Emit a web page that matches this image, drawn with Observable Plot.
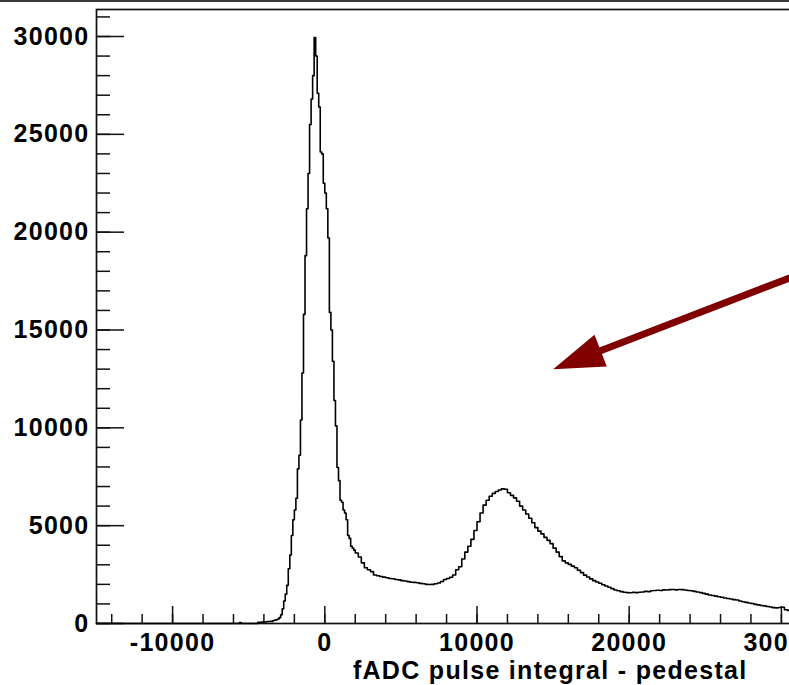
<!DOCTYPE html>
<html>
<head>
<meta charset="utf-8">
<script src="https://cdn.jsdelivr.net/npm/d3@7"></script>
<script src="https://cdn.jsdelivr.net/npm/@observablehq/plot@0.6"></script>
<style>
  html, body { margin: 0; padding: 0; background: #fff; overflow: hidden; }
  #wrap { position: relative; width: 789px; height: 685px; overflow: hidden; }
  #topline { position: absolute; left: 0; top: 0; width: 789px; height: 2px; background: #3a3a3a; }
</style>
</head>
<body>
<div id="wrap"><div id="topline"></div></div>
<script>
// ---- histogram data (bin left edges and counts) ----
const binLeft = [
  -15000, -5600, -5500, -4400, -4200, -4000, -3800, -3600, -3400, -3300, -3200,
  -3100, -3000, -2900, -2800, -2700, -2600, -2500, -2400, -2300, -2200, -2100,
  -2000, -1900, -1800, -1700, -1600, -1500, -1400, -1300, -1200, -1100,
  -1000, -900, -800, -700, -600, -500, -400, -300, -200, -100,
  0, 100, 200, 300, 400, 500, 600, 700, 800, 900,
  1000, 1100, 1200, 1300, 1400, 1500, 1600, 1700, 1800, 1900,
  2000, 2200, 2400, 2600, 2800, 3000, 3200, 3400, 3600, 3800,
  4000, 4200, 4400, 4600, 4800, 5000, 5200, 5400, 5600, 5800,
  6000, 6200, 6400, 6600, 6800, 7000, 7200, 7400, 7600, 7800,
  8000, 8200, 8400, 8600, 8800, 9000, 9200, 9400, 9600, 9800,
  10000, 10200, 10400, 10600, 10800, 11000, 11200, 11400, 11600, 11800,
  12000, 12200, 12400, 12600, 12800, 13000, 13200, 13400, 13600, 13800,
  14000, 14200, 14400, 14600, 14800, 15000, 15200, 15400, 15600, 15800,
  16000, 16200, 16400, 16600, 16800, 17000, 17200, 17400, 17600, 17800,
  18000, 18200, 18400, 18600, 18800, 19000, 19200, 19400, 19600, 19800,
  20000, 20200, 20400, 20600, 20800, 21000, 21200, 21400, 21600, 21800,
  22000, 22200, 22400, 22600, 22800, 23000, 23200, 23400, 23600, 23800,
  24000, 24200, 24400, 24600, 24800, 25000, 25200, 25400, 25600, 25800,
  26000, 26200, 26400, 26600, 26800, 27000, 27200, 27400, 27600, 27800,
  28000, 28200, 28400, 28600, 28800, 29000, 29200, 29400, 29600, 29800,
  30000, 30200, 30400, 30600, 30800
];
const binCount = [
  0, 50, 0, 60, 70, 80, 100, 110, 150, 170, 190,
  230, 300, 450, 750, 1150, 1500, 1950, 2800, 3500, 4500, 5300,
  5800, 6400, 7900, 8600, 10400, 12800, 15800, 18800, 21200, 23000,
  25500, 26800, 28000, 29950, 29000, 27100, 26400, 24100, 24000, 22500,
  22000, 21200, 19700, 15900, 15000, 13400, 11400, 10100, 7970, 7300,
  6300, 6200, 5800, 5650, 5300, 4500, 4350, 3950, 3850, 3750,
  3600, 3400, 3100, 2850, 2750, 2650, 2480, 2440, 2400, 2370,
  2340, 2300, 2290, 2250, 2230, 2190, 2170, 2140, 2110, 2100,
  2080, 2050, 2030, 2000, 1990, 2000, 2030, 2070, 2150, 2250,
  2300, 2360, 2480, 2750, 2900, 3300, 3650, 3950, 4300, 4750,
  5200, 5650, 6050, 6300, 6500, 6650, 6750, 6820, 6880, 6860,
  6680, 6550, 6420, 6250, 6000, 5800, 5600, 5380, 5150, 4900,
  4720, 4580, 4400, 4250, 4080, 3850, 3650, 3420, 3200, 3100,
  3020, 2930, 2850, 2720, 2600, 2470, 2380, 2280, 2190, 2120,
  2060, 1980, 1920, 1850, 1780, 1710, 1670, 1630, 1600, 1580,
  1570, 1590, 1580, 1600, 1610, 1640, 1630, 1670, 1690, 1700,
  1690, 1720, 1710, 1730, 1740, 1720, 1740, 1730, 1710, 1690,
  1670, 1640, 1610, 1580, 1540, 1500, 1460, 1430, 1400, 1370,
  1340, 1300, 1280, 1250, 1220, 1200, 1150, 1110, 1080, 1050,
  1020, 980, 950, 920, 900, 870, 840, 810, 800, 820,
  830, 700, 670, 650, 640
];
const histEnd = 31000;

// ---- axis ticks and labels ----
const yMajorTicks = [0, 5000, 10000, 15000, 20000, 25000, 30000];
const yMinorTicks = [0, 1000, 2000, 3000, 4000, 5000, 6000, 7000, 8000, 9000, 10000,
  11000, 12000, 13000, 14000, 15000, 16000, 17000, 18000, 19000, 20000,
  21000, 22000, 23000, 24000, 25000, 26000, 27000, 28000, 29000, 30000, 31000];
const xMajorTicks = [-10000, 0, 10000, 20000, 30000];
const xMinorTicks = [-14000, -12000, -10000, -8000, -6000, -4000, -2000, 0, 2000, 4000, 6000,
  8000, 10000, 12000, 14000, 16000, 18000, 20000, 22000, 24000, 26000, 28000, 30000, 32000, 34000];
const xTitle = "fADC pulse integral - pedestal";

// ---- annotation arrow (start -> tip, data coordinates) ----
const arrowX = [35000, 15000];
const arrowY = [19000, 13000];

const hist = binLeft.map((x, i) => ({x, y: binCount[i]}));
hist.push({x: histEnd, y: binCount[binCount.length - 1]});

const arrowHead = {
  draw(ctx) {
    ctx.moveTo(0, 0);
    ctx.lineTo(51, -17);
    ctx.lineTo(51, 17);
    ctx.closePath();
  }
};

const font = "'Liberation Sans', Arial, Helvetica, sans-serif";
const fmt = d => `${d}`;
const blank = () => "";

const chart = Plot.plot({
  width: 789,
  height: 685,
  marginLeft: 96,
  marginRight: -68,
  marginTop: 9,
  marginBottom: 62,
  x: {domain: [-15000, 35000], label: null},
  y: {domain: [0, 31380], label: null},
  style: {
    fontFamily: font,
    fontWeight: "bold",
    fontSize: "25px",
    letterSpacing: "1.3px",
    color: "#000",
    background: "#fff",
    overflow: "hidden"
  },
  marks: [
    Plot.frame({stroke: "#111", strokeWidth: 1.7}),
    Plot.axisY(yMinorTicks, {tickSize: -14, tickFormat: blank, strokeWidth: 1.5, stroke: "#111"}),
    Plot.axisY(yMajorTicks, {tickSize: -28, tickFormat: blank, strokeWidth: 1.5, stroke: "#111"}),
    Plot.axisY(yMajorTicks, {tickSize: 0, tickPadding: 7, tickFormat: fmt, fill: "#000"}),
    Plot.axisX(xMinorTicks, {tickSize: -9, tickFormat: blank, strokeWidth: 1.5, stroke: "#111"}),
    Plot.axisX(xMajorTicks, {tickSize: -17, tickFormat: blank, strokeWidth: 1.5, stroke: "#111"}),
    Plot.axisX(xMajorTicks, {tickSize: 0, tickPadding: 10, tickFormat: fmt, fill: "#000"}),
    Plot.text([xTitle], {
      text: d => d,
      frameAnchor: "bottom-right",
      textAnchor: "end",
      lineAnchor: "bottom",
      dx: -110,
      dy: 55,
      fill: "#000"
    }),
    Plot.line(hist, {x: "x", y: "y", curve: "step-after", stroke: "#000", strokeWidth: 1.6}),
    Plot.arrow([{x1: arrowX[0], y1: arrowY[0], x2: arrowX[1], y2: arrowY[1]}], {
      x1: "x1", y1: "y1", x2: "x2", y2: "y2",
      stroke: "#800000", strokeWidth: 7, headLength: 0, insetEnd: 30, strokeLinecap: "butt"
    }),
    Plot.dot([{x: arrowX[1], y: arrowY[1]}], {
      x: "x", y: "y", symbol: arrowHead, rotate: -21.2, fill: "#800000", stroke: "none"
    })
  ]
});

document.getElementById("wrap").insertBefore(chart, document.getElementById("topline"));
</script>
</body>
</html>
